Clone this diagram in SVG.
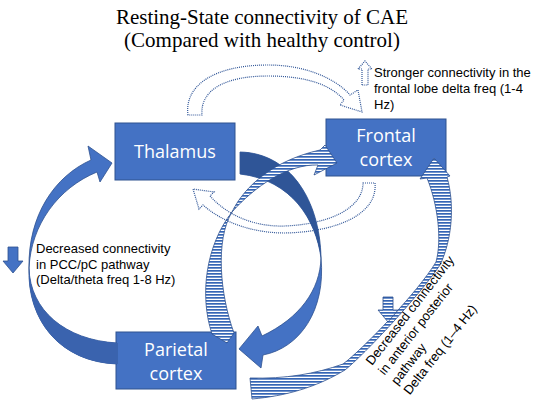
<svg xmlns="http://www.w3.org/2000/svg" width="536" height="407" viewBox="0 0 536 407">
<style>
.title{font-family:"Liberation Serif","Times New Roman",serif;font-size:21px;fill:#000;text-anchor:middle}
.lbl{font-family:"Liberation Sans",Arial,sans-serif;font-size:13px;fill:#000}
.box{fill:#4472C4;stroke:#2F528F;stroke-width:1}
.boxt{font-family:"Open Sans","Liberation Sans",sans-serif;font-size:18px;fill:#fff;text-anchor:middle}
.solid{fill:#4472C4;stroke:#2F528F;stroke-width:0.8}
.dark{fill:#2F5597;stroke:none}
.darkl{fill:#3A63AE;stroke:none}
.hatch{fill:url(#hatch);stroke:#2F528F;stroke-width:0.8}
.dot{fill:none;stroke:#2F5597;stroke-width:1.2;stroke-dasharray:1 1}
</style>
<defs>
<pattern id="hatch" patternUnits="userSpaceOnUse" width="8" height="3">
<rect width="8" height="3" fill="#fff"/>
<rect width="8" height="1.7" fill="#3565B5"/>
</pattern>
</defs>
<text class="title" x="262" y="24">Resting-State connectivity of CAE</text>
<text class="title" x="262" y="47">(Compared with healthy control)</text>

<g id="thalamus">
<rect class="box" x="115" y="123" width="120" height="57"/>
<text class="boxt" x="175" y="158">Thalamus</text>
</g>
<g id="frontal">
<rect class="box" x="326" y="119" width="120" height="57"/>
<text class="boxt" x="386" y="142">Frontal</text>
<text class="boxt" x="386" y="166">cortex</text>
</g>
<g id="parietal">
<rect class="box" x="116" y="332" width="120" height="57"/>
<text class="boxt" x="176" y="356">Parietal</text>
<text class="boxt" x="176" y="380">cortex</text>
</g>

<g id="connectors">
<!-- parietal -> thalamus (solid) -->
<path class="solid" d="M117,364 C60,362 27,320 29,268 C31,225 58,188 97,172 L100,182 L112,163 L88,146 L91,160 C55,176 28,215 29,268 C30,310 65,340 117,343 Z"/>
<path class="darkl" d="M117,364 C60,362 27,320 29,268 C30,310 65,340 117,343 Z"/>
<!-- thalamus -> parietal (solid) -->
<path class="solid" d="M240,152 C290,153 320,200 321,258 C320,290 300,318 262,336 L258,326 L239,349 L261,368 L263,355 C300,348 326,310 321,258 C316,220 292,180 240,174 Z"/>
<path class="dark" d="M240,152 C290,153 320,200 321,258 C316,220 292,180 240,174 Z"/>
<!-- parietal -> frontal (hatched) -->
<path class="hatch" d="M212,334 C199,295 206,245 232,212 C245,185 275,160 320,150 L325,145 L337,163 L314,175 L318,165 C288,164 255,186 232,212 C215,240 220,295 234,333 L227,343 Z"/>
<!-- parietal -> frontal bottom (hatched) -->
<path class="hatch" d="M252,399 C285,396 315,388 345,370 C364,355 420,295 440,265 C452,240 455,205 447,177 L450,176 L434,158 L420,179 L427,178 C438,205 442,240 436,262 C418,292 362,350 343,364 C315,374 285,379 250,378 Z"/>
<!-- thalamus -> frontal (dotted hollow) -->
<path class="dot" d="M188,115 C184,85 215,65 268,65 C305,65 335,78 350,95 L358,90 L362,112 L340,105 L344,100 C330,84 305,76 268,76 C225,76 200,90 202,115 Z"/>
<!-- frontal -> thalamus (dotted hollow) -->
<path class="dot" d="M363,183 L375,183 C378,215 335,232 285,233 C252,233 222,222 203,205 L199,209 L193,189 L214,192 L210,196 C228,216 255,227 285,226 C330,224 363,208 363,183 Z"/>
</g>

<g id="legend-up">
<path class="dot" d="M362,85 L362,69 L358,69 L365,61 L372,69 L368,69 L368,85 Z"/>
<text class="lbl" x="374" y="77">Stronger connectivity in the</text>
<text class="lbl" x="374" y="93">frontal lobe delta freq (1-4</text>
<text class="lbl" x="374" y="109">Hz)</text>
</g>
<g id="legend-left">
<path class="solid" d="M8,247 L18,247 L18,261 L23,261 L13,273 L3,261 L8,261 Z"/>
<text class="lbl" x="36" y="253">Decreased connectivity</text>
<text class="lbl" x="36" y="268.5">in PCC/pC pathway</text>
<text class="lbl" x="36" y="284">(Delta/theta freq 1-8 Hz)</text>
</g>
<g id="legend-ap">
<path class="hatch" d="M383,297 L393,297 L393,310 L398,310 L388,322 L378,310 L383,310 Z"/>
<text class="lbl" transform="translate(372,366) rotate(-52)"><tspan x="0" y="0">Decreased connectivity</tspan><tspan x="0" y="16">in anterior posterior</tspan><tspan x="0" y="32">pathway</tspan><tspan x="0" y="48">Delta freq (1–4 Hz)</tspan></text>
</g>
</svg>
